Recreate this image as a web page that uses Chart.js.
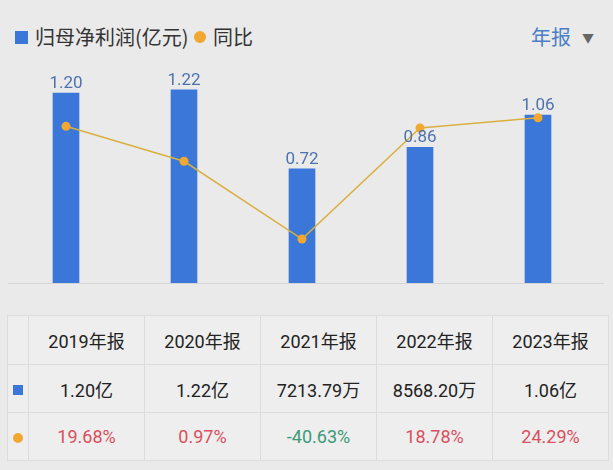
<!DOCTYPE html>
<html>
<head>
<meta charset="utf-8">
<script src="https://cdn.jsdelivr.net/npm/chart.js@4/dist/chart.umd.min.js"></script>
<style>
  html, body { margin: 0; padding: 0; }
  body {
    width: 613px; height: 470px; background: #eaeaea; position: relative; overflow: hidden;
    font-family: Roboto, "Noto Sans CJK SC", sans-serif; color: #222;
  }
  .legend { position: absolute; top: 24px; left: 0; width: 613px; height: 28px; font-family: "Noto Sans CJK SC", sans-serif; font-size: 20px; color: #333; }
  .legend .sq { position: absolute; left: 15px; top: 7px; width: 13px; height: 13px; background: #3a77d9; }
  .legend .dot { position: absolute; left: 194px; top: 7px; width: 12px; height: 12px; border-radius: 50%; background: #f1a832; }
  .legend .t1 { position: absolute; left: 35px; top: 0; line-height: 26px; }
  .legend .t2 { position: absolute; left: 213px; top: 0; line-height: 26px; }
  .legend .rep { position: absolute; left: 531px; top: 0; line-height: 26px; color: #4a7fc6; }
  .legend .arr { position: absolute; left: 582px; top: 1px; line-height: 26px; font-size: 12px; color: #666; }
  .baseline { position: absolute; left: 8px; top: 283px; width: 596px; height: 1px; background: #d6d6d6; }
  #wrap { position: absolute; left: 0; top: 0; width: 613px; height: 300px; }
  table { position: absolute; left: 7px; top: 315px; border-collapse: collapse; background: #eeeeee; }
  td { border: 1px solid #dcdcdc; text-align: center; font-size: 18px; padding: 0; }
  td.k { width: 20px; }
  td.c { width: 115px; }
  tr.h td { height: 48px; }
  tr.r td { height: 47px; }
  .msq { display: inline-block; width: 10px; height: 10px; background: #3a77d9; }
  .mdot { display: inline-block; width: 10px; height: 10px; border-radius: 50%; background: #f1a832; }
  .up { color: #d9505e; }
  .down { color: #3b9a78; }
</style>
</head>
<body>
<div class="legend">
  <span class="sq"></span><span class="t1">归母净利润(亿元)</span>
  <span class="dot"></span><span class="t2">同比</span>
  <span class="rep">年报</span><span class="arr">▼</span>
</div>
<div class="baseline"></div>
<div id="wrap"><canvas id="chart" width="613" height="300"></canvas></div>
<table id="tbl"></table>
<script>
/* data */
const years = ["2019年报", "2020年报", "2021年报", "2022年报", "2023年报"];
const profit = [1.20, 1.22, 0.7214, 0.8568, 1.06];          // 亿元
const profitText = ["1.20亿", "1.22亿", "7213.79万", "8568.20万", "1.06亿"];
const yoy = [19.68, 0.97, -40.63, 18.78, 24.29];             // %

/* value labels over the bars */
const barLabels = {
  id: "barLabels",
  afterDatasetsDraw(chart) {
    const ctx = chart.ctx;
    const meta = chart.getDatasetMeta(1);
    ctx.save();
    ctx.font = "17px Roboto";
    ctx.fillStyle = "#4d72ad";
    ctx.textAlign = "center";
    ctx.textBaseline = "bottom";
    meta.data.forEach((bar, i) => {
      ctx.fillText(profit[i].toFixed(2), bar.x, bar.y - 1);
    });
    ctx.restore();
  }
};

new Chart(document.getElementById("chart"), {
  data: {
    labels: years,
    datasets: [
      {
        type: "line",
        label: "同比",
        data: yoy,
        yAxisID: "y2",
        order: 0,
        borderColor: "#d9b040",
        borderWidth: 1.5,
        tension: 0,
        pointRadius: 4.5,
        pointBackgroundColor: "#f1a832",
        pointBorderWidth: 0
      },
      {
        type: "bar",
        label: "归母净利润(亿元)",
        data: profit,
        yAxisID: "y",
        order: 1,
        backgroundColor: "#3a77d9",
        barThickness: 26,
        categoryPercentage: 1,
        barPercentage: 1
      }
    ]
  },
  options: {
    responsive: false,
    animation: false,
    devicePixelRatio: 1,
    layout: { padding: { left: 7, right: 16, top: 60, bottom: 17 } },
    plugins: { legend: { display: false }, tooltip: { enabled: false } },
    scales: {
      x: { display: false, offset: true },
      y: { display: false, min: 0, max: 1.4087 },
      y2: { display: false, position: "right", min: -64.15, max: 55.16 }
    }
  },
  plugins: [barLabels]
});

/* table under the chart */
const tbl = document.getElementById("tbl");
let html = '<tr class="h"><td class="k"></td>' + years.map(y => `<td class="c">${y}</td>`).join("") + "</tr>";
html += '<tr class="r"><td class="k"><span class="msq"></span></td>' + profitText.map(t => `<td class="c">${t}</td>`).join("") + "</tr>";
html += '<tr class="r"><td class="k"><span class="mdot"></span></td>' +
  yoy.map(v => `<td class="c ${v < 0 ? "down" : "up"}">${v.toFixed(2)}%</td>`).join("") + "</tr>";
tbl.innerHTML = html;
</script>
</body>
</html>
